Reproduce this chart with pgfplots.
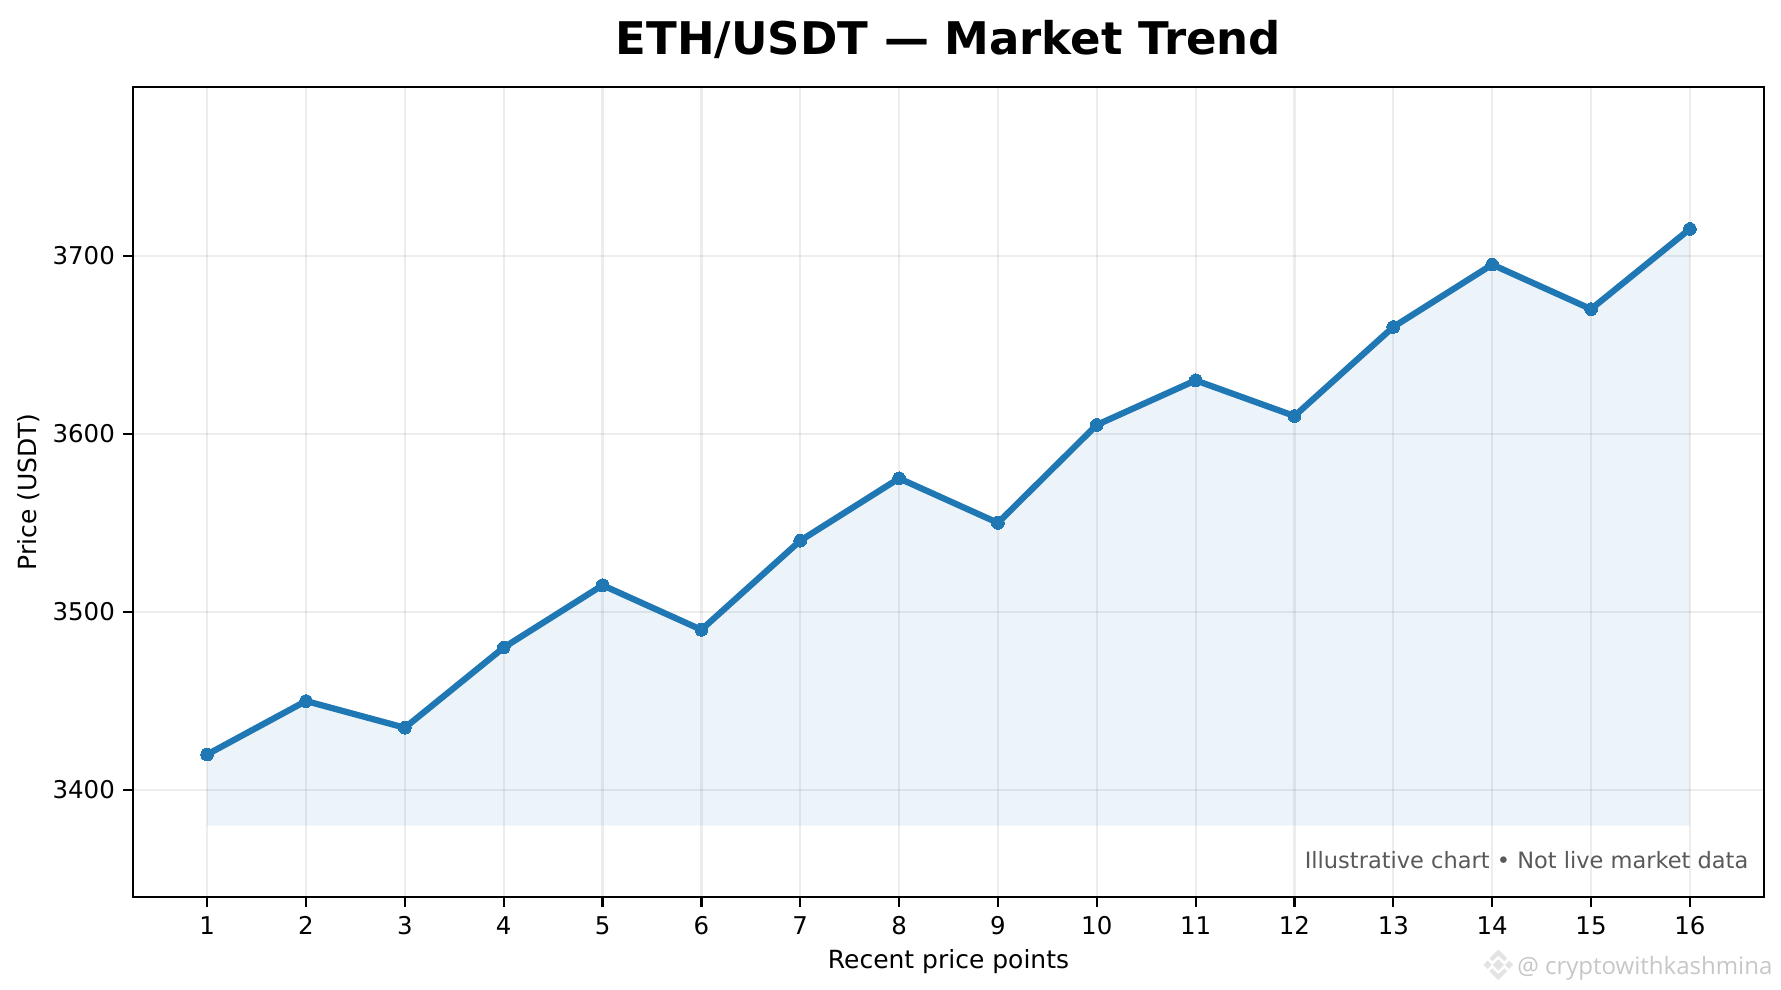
\documentclass[border=0pt]{standalone}
\usepackage{pgfplots}
\pgfplotsset{compat=1.18}
\usepackage{fontspec}
\setmainfont{DejaVu Sans}
\newfontfamily\wmfont{Open Sans}
\definecolor{mplblue}{HTML}{1F77B4}
\begin{document}
\begin{tikzpicture}[x=1pt,y=1pt]
\useasboundingbox (0,0) rectangle (641.16,356.04);
\begin{axis}[
  at={(47.88pt,33.13pt)}, anchor=south west,
  scale only axis, width=587.16pt, height=291.6pt,
  xmin=0.25, xmax=16.75, ymin=3340, ymax=3794.7,
  xtick={1,2,...,16}, ytick={3400,3500,3600,3700},
  /pgf/number format/assume math mode=true,
  /pgf/number format/.cd, set thousands separator={}, /pgfplots/.cd,
  tick align=outside, tick pos=left, major tick length=3.5pt,
  every tick/.style={black,line width=0.8pt},
  axis line style={black,line width=0.8pt},
  grid=both, major grid style={black,line width=0.8pt,opacity=0.07},
  tick label style={font=\fontsize{8.8}{11}\selectfont,black},
  xticklabel style={yshift=0pt},
  yticklabel style={xshift=0.5pt},
  xlabel={Recent price points},
  ylabel={Price (USDT)},
  label style={font=\fontsize{9}{11}\selectfont,black},
  xlabel style={yshift=1.6pt},
  ylabel style={yshift=-2.3pt},
  title={\textbf{ETH/USDT — Market Trend}},
  title style={font=\fontsize{16.2}{20}\selectfont,yshift=0.6pt},
  clip=true,
]
\addplot[draw=none,fill=mplblue,fill opacity=0.085] coordinates {
 (1,3380)(1,3420)(2,3450)(3,3435)(4,3480)(5,3515)(6,3490)(7,3540)(8,3575)
 (9,3550)(10,3605)(11,3630)(12,3610)(13,3660)(14,3695)(15,3670)(16,3715)(16,3380)} -- cycle;
\addplot[mplblue,line width=2.25pt,line join=round,mark=*,mark size=2.3pt,mark options={fill=mplblue,draw=mplblue,line width=0pt}] coordinates {
 (1,3420)(2,3450)(3,3435)(4,3480)(5,3515)(6,3490)(7,3540)(8,3575)
 (9,3550)(10,3605)(11,3630)(12,3610)(13,3660)(14,3695)(15,3670)(16,3715)};
\node[anchor=south east,inner sep=0pt,text=black!65!white,font=\fontsize{8.1}{10}\selectfont] at (rel axis cs:0.9907,0.0345) {Illustrative chart • Not live market data};
\end{axis}
\node[anchor=base west,inner sep=0pt,text=black!22!white,font=\wmfont\fontsize{8.65}{11}\selectfont] at (546,5.4) {@ cryptowithkashmina};
\begin{scope}[fill=black!11!white,draw=none]
\fill (539.4,6.7) -- (541.4,8.7) -- (539.4,10.7) -- (537.4,8.7) -- cycle;
\fill (539.4,3.2) -- (542.6,6.4) -- (541.6,7.4) -- (539.4,5.4) -- (537.2,7.4) -- (536.2,6.4) -- cycle;
\fill (539.4,14.2) -- (542.6,11) -- (541.6,10) -- (539.4,12) -- (537.2,10) -- (536.2,11) -- cycle;
\fill (534,8.7) -- (535.5,10.2) -- (537,8.7) -- (535.5,7.2) -- cycle;
\fill (544.8,8.7) -- (543.3,10.2) -- (541.8,8.7) -- (543.3,7.2) -- cycle;
\end{scope}
\end{tikzpicture}
\end{document}
